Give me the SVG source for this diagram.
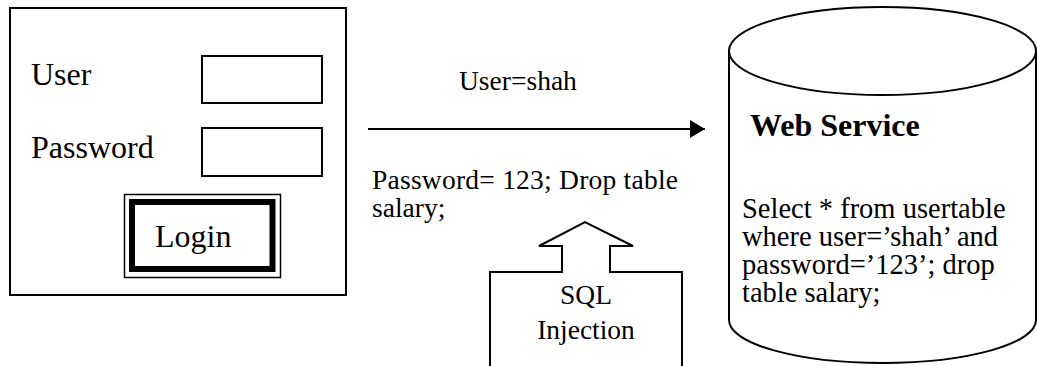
<svg xmlns="http://www.w3.org/2000/svg" width="1037" height="366" viewBox="0 0 1037 366">
<style>
.t{font-family:"Liberation Serif","Times New Roman",serif;fill:#000}
.big{font-size:32px}
.mid{font-size:27.5px}
.body{font-size:28.5px}
.ln{fill:none;stroke:#000;stroke-width:2}
</style>
<defs>
<marker id="ah" markerWidth="16" markerHeight="18" refX="15" refY="9" orient="auto" markerUnits="userSpaceOnUse">
<path d="M0,0 L15,9 L0,18 Z" fill="#000"/>
</marker>
</defs>
<rect width="1037" height="366" fill="#fff"/>
<g id="login-form">
<rect class="ln" x="10" y="8" width="336" height="287" fill="#fff"/>
<text class="t big" x="31" y="85">User</text>
<text class="t big" x="31" y="158">Password</text>
<rect class="ln" x="202" y="56" width="120" height="47"/>
<rect class="ln" x="202" y="128" width="120" height="48"/>
<g id="login-button">
<rect x="124.5" y="194.5" width="156" height="83" fill="none" stroke="#000" stroke-width="1.5"/>
<rect x="132" y="202" width="140.5" height="67" fill="none" stroke="#000" stroke-width="6"/>
<text class="t big" x="155" y="247">Login</text>
</g>
</g>
<g id="connectors">
<line class="ln" x1="368" y1="129" x2="705" y2="129" marker-end="url(#ah)"/>
</g>
<g id="labels">
<text class="t mid" x="459" y="90">User=shah</text>
<text class="t mid" x="372" y="189" textLength="306" lengthAdjust="spacing">Password= 123; Drop table</text>
<text class="t mid" x="372" y="217">salary;</text>
</g>
<g id="sql-injection">
<path class="ln" d="M490,366 L490,272 L562,272 L562,246 L539,246 L585,222 L633,246 L610,246 L610,272 L682,272 L682,366"/>
<text class="t mid" x="586" y="304" text-anchor="middle">SQL</text>
<text class="t mid" x="586" y="339" text-anchor="middle">Injection</text>
</g>
<g id="web-service">
<path class="ln" d="M729,51 L729,320 A153.5,43 0 0 0 1036,320 L1036,51"/>
<ellipse class="ln" cx="882.5" cy="51" rx="153.5" ry="44"/>
<text class="t big" x="750" y="136" font-weight="bold">Web Service</text>
<text class="t body" x="742" y="218">Select * from usertable</text>
<text class="t body" x="742" y="246">where user=’shah’ and</text>
<text class="t body" x="742" y="274">password=’123’; drop</text>
<text class="t body" x="742" y="302">table salary;</text>
</g>
</svg>
